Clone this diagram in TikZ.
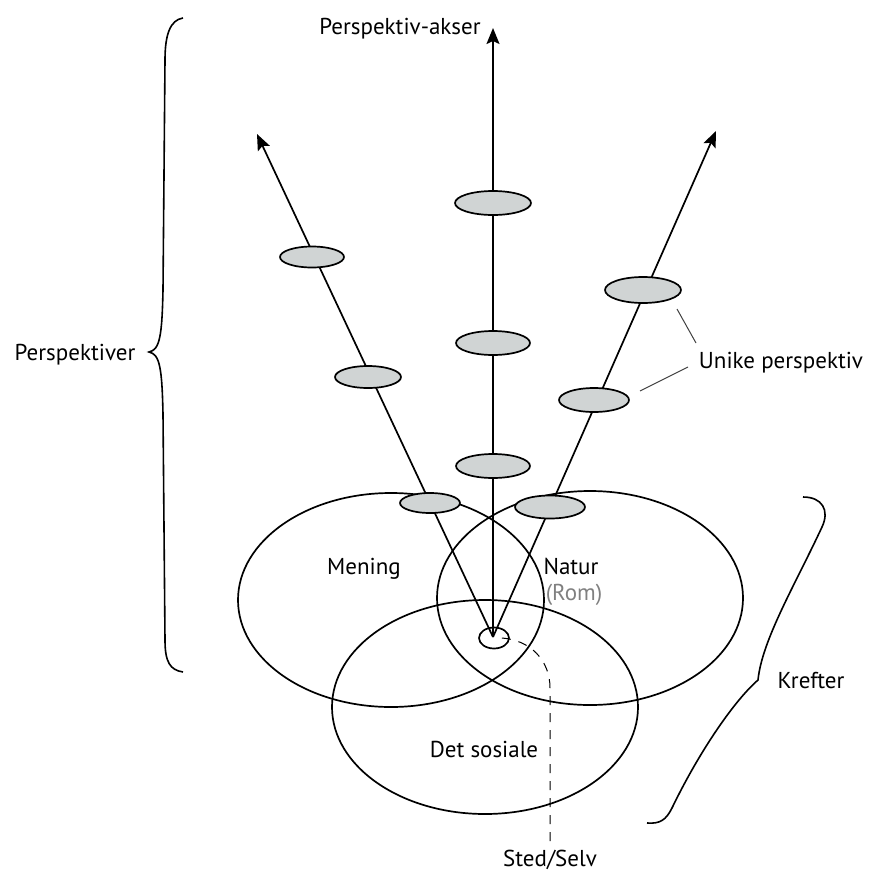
\documentclass[tikz,border=0pt]{standalone}
\usepackage{fontspec}
\setmainfont{PT Sans}
\usetikzlibrary{shapes.geometric,arrows.meta}
\definecolor{diskgray}{HTML}{D0D4D4}
\begin{document}
\begin{tikzpicture}[x=1pt,y=-1pt,
  lbl/.style={font=\fontsize{23}{27}\selectfont, inner sep=0pt, anchor=base},
  big/.style={ellipse, draw, line width=1.7pt, minimum width=306pt, minimum height=214pt, inner sep=0pt},
  disk/.style={ellipse, draw, fill=diskgray, line width=1.7pt, inner sep=0pt},
  axis/.style={line width=1.7pt, -{Stealth[length=16pt,width=13pt,inset=3pt]}},
  leader/.style={line width=1pt, draw=black!75},
  bracestyle/.style={line width=1.6pt},
  dashline/.style={line width=1pt, draw=black, dash pattern=on 9pt off 8pt}
]
\useasboundingbox (0,0) rectangle (871,873);

% big ellipses
\node[big] (mening) at (391,600) {};
\node[big] (natur) at (590,598) {};
\node[big] (sosial) at (485,707) {};

% self
\node[ellipse, draw, line width=1.7pt, minimum width=30pt, minimum height=21pt, inner sep=0pt] (self) at (494,638) {};
\coordinate (O) at (493,637);

% axes
\coordinate (tipC) at (493,28);
\coordinate (tipL) at (257,134);
\coordinate (tipR) at (716,131);
\draw[axis] (O) -- (tipC);
\draw[axis] (O) -- (tipL);
\draw[axis] (O) -- (tipR);

% disks
\node[disk, minimum width=76pt, minimum height=24pt] (c1) at (493,203) {};
\node[disk, minimum width=74pt, minimum height=24pt] (c2) at (493,343) {};
\node[disk, minimum width=74pt, minimum height=24pt] (c3) at (493,466) {};
\node[disk, minimum width=64pt, minimum height=21pt] (l1) at (312,257) {};
\node[disk, minimum width=66pt, minimum height=22pt] (l2) at (368,377) {};
\node[disk, minimum width=60pt, minimum height=20pt] (l3) at (430,503) {};
\node[disk, minimum width=76pt, minimum height=26pt] (r1) at (643,290) {};
\node[disk, minimum width=70pt, minimum height=24pt] (r2) at (594,400) {};
\node[disk, minimum width=70pt, minimum height=23pt] (r3) at (550,507) {};

% labels
\node[lbl] (akser) at (400,34) {Perspektiv-akser};
\node[lbl] (persp) at (75,360) {Perspektiver};
\node[lbl] (unike) at (781,368) {Unike perspektiv};
\node[lbl] (meningl) at (364,574) {Mening};
\node[lbl] (naturl) at (571,574) {Natur};
\node[lbl, text=gray] (rom) at (574,600) {(Rom)};
\node[lbl] (sosl) at (484,757) {Det sosiale};
\node[lbl] (sted) at (550,866) {Sted/Selv};
\node[lbl] (krefter) at (811,688) {Krefter};

% leader lines
\coordinate (u1a) at (677,309);
\coordinate (u1b) at (696,343);
\coordinate (u2a) at (688,367);
\coordinate (u2b) at (640,391);
\draw[leader] (u1a) -- (u1b);
\draw[leader] (u2a) -- (u2b);

% dashed line self -> Sted/Selv
\coordinate (dend) at (550,846);
\draw[dashline] ([xshift=-8pt]self.east) .. controls (530,640) and (550,660) .. (550,688) -- (dend);

% left brace
\draw[bracestyle] (183,18) .. controls (170,20) and (165,35) .. (165,60)
  -- (163,290) .. controls (162,335) and (160,350) .. (149,352)
  .. controls (160,354) and (162,369) .. (163,414)
  -- (165,640) .. controls (165,662) and (170,670) .. (183,672);

% right brace
\draw[bracestyle] (803,497) .. controls (822,497) and (830,510) .. (822,527)
  .. controls (795,585) and (762,640) .. (758,680)
  .. controls (735,700) and (700,750) .. (672,808)
  .. controls (666,820) and (660,824) .. (647,823);
\end{tikzpicture}
\end{document}
